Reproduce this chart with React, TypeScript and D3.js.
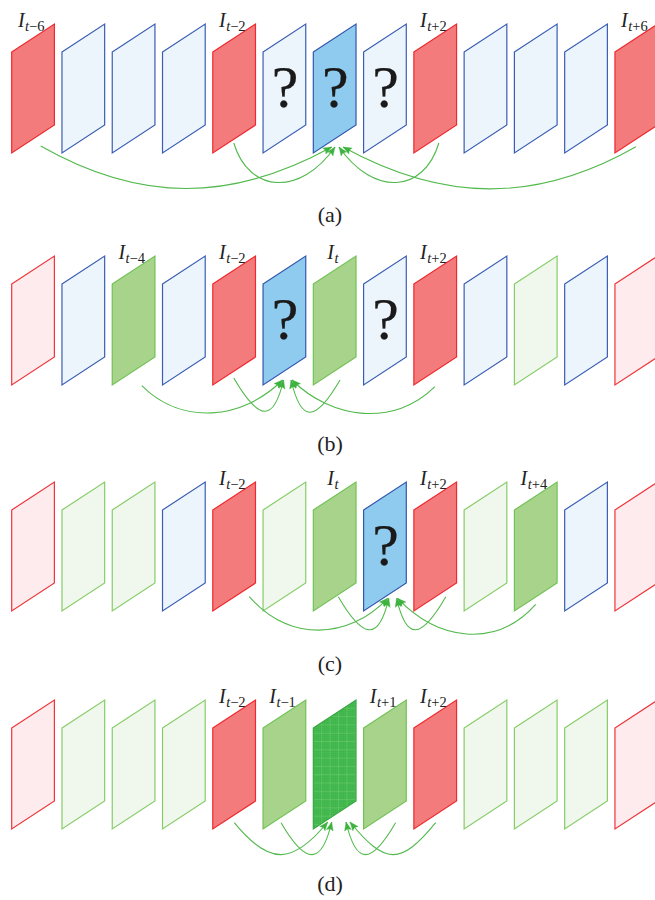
import React from 'react';
import * as d3 from 'd3';

const W = 655;
const H = 900;

// panel captions and vertical placement
const panelCaptions = ['(a)', '(b)', '(c)', '(d)'];
const panelTops = [24, 256, 482, 700];
const captionBaselines = [222, 451, 671, 891];

// frame kinds per panel: R key(red), B unknown(light blue), T target(blue),
// G ref(green), L light green, P light pink, D dense-grid green
const framesA = ['R', 'B', 'B', 'B', 'R', 'B', 'T', 'B', 'R', 'B', 'B', 'B', 'R'];
const framesB = ['P', 'B', 'G', 'B', 'R', 'T', 'G', 'B', 'R', 'B', 'L', 'B', 'P'];
const framesC = ['P', 'L', 'L', 'B', 'R', 'L', 'G', 'T', 'R', 'L', 'G', 'B', 'P'];
const framesD = ['P', 'L', 'L', 'L', 'R', 'G', 'D', 'G', 'R', 'L', 'L', 'L', 'P'];

// frames carrying a "?"
const questionA = [5, 6, 7];
const questionB = [5, 7];
const questionC = [7];
const questionD: number[] = [];

// labels: [frame index, subscript]
const labelsA: [number, string][] = [[0, '−6'], [4, '−2'], [8, '+2'], [12, '+6']];
const labelsB: [number, string][] = [[2, '−4'], [4, '−2'], [6, ''], [8, '+2']];
const labelsC: [number, string][] = [[4, '−2'], [6, ''], [8, '+2'], [10, '+4']];
const labelsD: [number, string][] = [[4, '−2'], [5, '−1'], [7, '+1'], [8, '+2']];

// target frame per panel
const targets = [6, 5, 7, 6];

// arrows: [source frame, source dx, source dy, target dx, target dy, far?]
const arrowsA: [number, number, number, number, number, boolean][] = [
  [0, 29, 122, 18.4, 123, true],
  [4, 21, 119, 21.7, 123, false],
  [8, 25, 119, 25.7, 123, false],
  [12, 21, 122.7, 29.7, 123, true],
];
const arrowsB: [number, number, number, number, number, boolean][] = [
  [2, 29.5, 129.7, 19.5, 124, true],
  [4, 21, 122, 20.5, 124, false],
  [6, 26.7, 124, 28, 124, false],
  [8, 21, 130.7, 29, 124, true],
];
const arrowsC: [number, number, number, number, number, boolean][] = [
  [4, 36.5, 114.7, 24.2, 116.3, true],
  [6, 25, 114.7, 25.2, 116.3, false],
  [8, 32, 114.7, 33, 116.3, false],
  [10, 21.3, 122.3, 34, 116.3, true],
];
const arrowsD: [number, number, number, number, number, boolean][] = [
  [4, 21.5, 122.7, 14.4, 122, true],
  [5, 18, 122.7, 18.4, 122, false],
  [7, 32, 122.7, 32.7, 122, false],
  [8, 21.8, 122.7, 36.7, 122, true],
];

// curve controls per panel: [c1x, c1y, c2x, c2y]
const farCtrl = [[100, 57, 100, 55], [40, 40, 40, 40], [40, 45, 40, 42], [35, 43, 35, 43]];
const nearCtrl = [[15, 50, 35, 50], [25, 43, 10, 43], [25, 43, 10, 43], [25, 43, 10, 43]];

const panelFrames = [framesA, framesB, framesC, framesD];
const panelQuestions = [questionA, questionB, questionC, questionD];
const panelLabels = [labelsA, labelsB, labelsC, labelsD];
const panelArrows = [arrowsA, arrowsB, arrowsC, arrowsD];

const FRAME_W = 42.7;
const FRAME_SKEW = 28;
const FRAME_H = 101;

const styles: Record<string, { fill: string; stroke: string }> = {
  R: { fill: '#f47b7b', stroke: '#ec2a2f' },
  B: { fill: '#edf5fc', stroke: '#3a5db3' },
  T: { fill: '#8fcbee', stroke: '#3257ad' },
  G: { fill: '#a8d38b', stroke: '#72c257' },
  L: { fill: '#f0f7ec', stroke: '#86cd68' },
  P: { fill: '#fdebed', stroke: '#ee353a' },
  D: { fill: '#3db44a', stroke: '#3aa845' },
};

const xScale = d3.scaleLinear().domain([0, 12]).range([11.7, 11.7 + 12 * 50.27]);

const serif = 'Liberation Serif';

function framePoints(i: number, top: number): [number, number][] {
  const x = xScale(i);
  return [
    [x, top + FRAME_SKEW],
    [x + FRAME_W, top],
    [x + FRAME_W, top + FRAME_H],
    [x, top + FRAME_SKEW + FRAME_H],
  ];
}

function polyStr(pts: [number, number][]) {
  return pts.map((p) => p.join(',')).join(' ');
}

export default function App() {
  React.useEffect(() => {
    document.body.style.margin = '0';
  }, []);

  const line = d3.line();

  return (
    <svg width={W} height={H} viewBox={`0 0 ${W} ${H}`} style={{ display: 'block', background: '#fff' }}>
      <defs>
        {panelTops.map((top, p) =>
          panelFrames[p].map((k, i) =>
            k === 'D' ? (
              <clipPath id={`clip-${p}-${i}`} key={`c${p}-${i}`}>
                <polygon points={polyStr(framePoints(i, top))} />
              </clipPath>
            ) : null
          )
        )}
      </defs>
      {panelTops.map((top, p) => {
        const frames = panelFrames[p];
        const tgt = targets[p];
        return (
          <g key={p}>
            {frames.map((k, i) => {
              const st = styles[k];
              const pts = framePoints(i, top);
              const x = xScale(i);
              const gridEls: React.ReactNode[] = [];
              if (k === 'D') {
                const fine = d3.range(x, x + FRAME_W + 1, 2.1);
                const fineY = d3.range(top, top + FRAME_H + FRAME_SKEW + 1, 2.1);
                fine.forEach((gx, j) =>
                  gridEls.push(<line key={`fv${j}`} x1={gx} x2={gx} y1={top} y2={top + 140} stroke="#5cc460" strokeWidth={0.5} opacity={0.5} />)
                );
                fineY.forEach((gy, j) =>
                  gridEls.push(<line key={`fh${j}`} x1={x} x2={x + FRAME_W} y1={gy} y2={gy} stroke="#5cc460" strokeWidth={0.5} opacity={0.5} />)
                );
                d3.range(x + 8.4, x + FRAME_W, 8.4).forEach((gx, j) =>
                  gridEls.push(<line key={`mv${j}`} x1={gx} x2={gx} y1={top} y2={top + 140} stroke="#6fcc70" strokeWidth={0.8} opacity={0.7} />)
                );
                d3.range(top + 8.3, top + FRAME_H + FRAME_SKEW, 8.3).forEach((gy, j) =>
                  gridEls.push(<line key={`mh${j}`} x1={x} x2={x + FRAME_W} y1={gy} y2={gy} stroke="#6fcc70" strokeWidth={0.8} opacity={0.7} />)
                );
              }
              return (
                <g key={i}>
                  <polygon points={polyStr(pts)} fill={st.fill} stroke="none" />
                  {k === 'D' ? <g clipPath={`url(#clip-${p}-${i})`}>{gridEls}</g> : null}
                  <polygon points={polyStr(pts)} fill="none" stroke={st.stroke} strokeWidth={1.2} strokeLinejoin="miter" />
                </g>
              );
            })}
            {panelQuestions[p].map((i) => (
              <text key={`q${i}`} x={xScale(i) + 22} y={top + 83} textAnchor="middle" fontFamily={serif} fontSize={60} fill="#1a1a1a" stroke="#1a1a1a" strokeWidth={0.25}>
                ?
              </text>
            ))}
            {panelLabels[p].map(([i, sub]) => (
              <text key={`l${i}`} x={xScale(i) + 19.5} y={top + 3} textAnchor="middle" fontFamily={serif} fill="#222">
                <tspan fontStyle="italic" fontSize={20}>I</tspan>
                <tspan fontStyle="italic" fontSize={14.5} dy={3.5} dx={0.5}>t</tspan>
                {sub ? <tspan fontSize={14.5}>{sub}</tspan> : null}
              </text>
            ))}
            {panelArrows[p].map(([src, sdx, sdy, tdx, tdy, far], a) => {
              const S: [number, number] = [xScale(src) + sdx, top + sdy];
              const T: [number, number] = [xScale(tgt) + tdx, top + tdy];
              const s = Math.sign(T[0] - S[0]);
              const c = far ? farCtrl[p] : nearCtrl[p];
              const P1: [number, number] = [S[0] + s * c[0], S[1] + c[1]];
              const P2: [number, number] = [T[0] - s * c[2], T[1] + c[3]];
              const path = d3.path();
              path.moveTo(S[0], S[1]);
              path.bezierCurveTo(P1[0], P1[1], P2[0], P2[1], T[0], T[1]);
              const dx = T[0] - P2[0];
              const dy = T[1] - P2[1];
              const len = Math.hypot(dx, dy);
              const ux = dx / len;
              const uy = dy / len;
              const L = 8.5;
              const hw = 3.4;
              const bx = T[0] - ux * L;
              const by = T[1] - uy * L;
              const head: [number, number][] = [
                [T[0], T[1]],
                [bx - uy * hw, by + ux * hw],
                [bx + ux * 1.5, by + uy * 1.5],
                [bx + uy * hw, by - ux * hw],
              ];
              return (
                <g key={`a${a}`}>
                  <path d={path.toString()} fill="none" stroke="#52b94c" strokeWidth={1.1} />
                  <path d={line(head) + 'Z'} fill="#3db23f" stroke="#3db23f" strokeWidth={0.4} />
                </g>
              );
            })}
            <text x={330} y={captionBaselines[p]} textAnchor="middle" fontFamily={serif} fontSize={22} fill="#222">
              {panelCaptions[p]}
            </text>
          </g>
        );
      })}
    </svg>
  );
}
